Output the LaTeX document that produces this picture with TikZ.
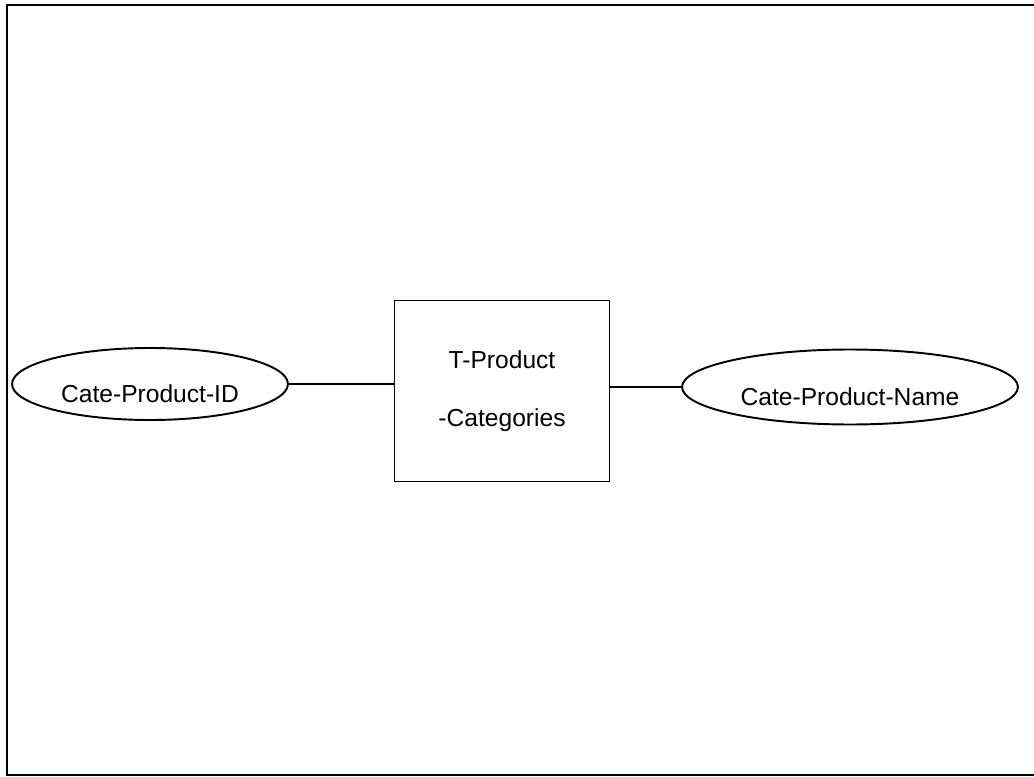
\documentclass[tikz,border=0pt]{standalone}
\usepackage{fontspec}
\setmainfont{Liberation Sans}
\usetikzlibrary{shapes.geometric}

\begin{document}
\begin{tikzpicture}[x=0.02cm,y=-0.02cm]
      \tikzset{attr/.style = {shape=ellipse,draw,line width=1.1pt,inner sep=0pt,text height=21pt,text depth=0pt,font=\fontsize{14}{17}\selectfont}}
      \tikzset{entity/.style = {shape=rectangle,draw,line width=1.1pt,minimum width=4.3cm,minimum height=3.62cm,align=center,font=\fontsize{14}{33}\selectfont}}
      \tikzset{edge/.style = {-,line width=1.1pt}}
      \useasboundingbox (0,0) rectangle (1034,777);
      \draw[line width=1.5pt] (1034,5) -- (7,5) -- (7,775) -- (1034,775);
      \node[entity] (cat) at (502,391) {T-Product\\-Categories};
      \node[attr,minimum width=5.52cm,minimum height=1.44cm] (id) at (150,384) {Cate-Product-ID};
      \node[attr,minimum width=6.72cm,minimum height=1.5cm] (name) at (850,387) {Cate-Product-Name};
      \draw[edge] (id.east) -- (id.east -| cat.west);
      \draw[edge] (name.west -| cat.east) -- (name.west);
\end{tikzpicture}
\end{document}
